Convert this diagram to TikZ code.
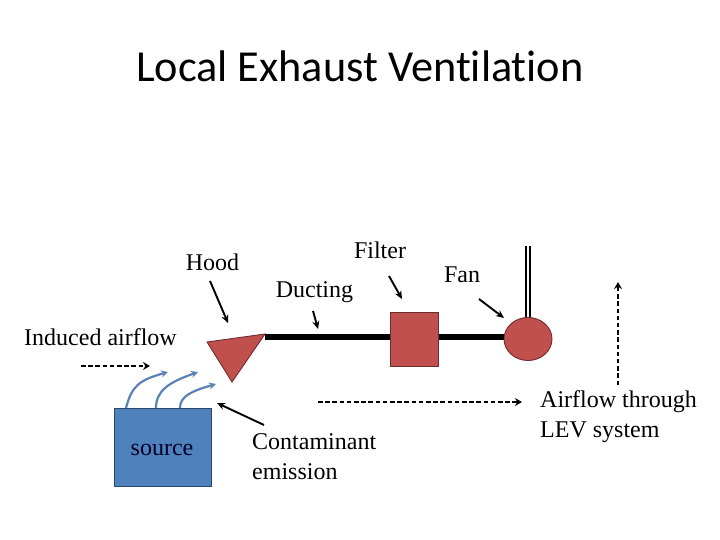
\documentclass[tikz,border=0pt]{standalone}
\usepackage{fontspec}
\setmainfont{Liberation Serif}
\newfontfamily\titlefont[Ligatures=NoCommon]{Carlito}
\usetikzlibrary{arrows.meta,shapes.geometric}
\definecolor{redfill}{RGB}{192,80,77}
\definecolor{redline}{RGB}{110,45,45}
\definecolor{bluefill}{RGB}{79,129,189}
\definecolor{blueline}{RGB}{40,70,110}
\definecolor{flow}{RGB}{90,130,180}
\tikzset{
  lab/.style={inner sep=0pt,font=\fontsize{24}{29.5}\selectfont,align=left},
  part/.style={draw=redline,fill=redfill,line width=0.9pt},
  pointer/.style={draw=black,line width=1.9pt,-{Stealth[length=8pt,width=7pt]}},
  dashflow/.style={draw=black,line width=1.8pt,dash pattern=on 4.5pt off 2.7pt,-{Stealth[length=7pt,width=8pt]}},
  plume/.style={draw=flow,line width=2.2pt,-{Stealth[length=7pt,width=7pt]}},
  duct/.style={draw=black,line width=6pt}
}
\begin{document}
\begin{tikzpicture}[x=1pt,y=-1pt]
\useasboundingbox (0,0) rectangle (720,540);
\fill[white] (0,0) rectangle (720,540);
\node[inner sep=0pt,font=\titlefont\fontsize{44.3}{52}\selectfont] (title) at (360,66.5) {Local Exhaust Ventilation};

% coordinates
\coordinate (hoodA) at (207,342);
\coordinate (hoodB) at (265,334);
\coordinate (hoodC) at (232,382);
\coordinate (stackTop) at (528,246);
\coordinate (stackBase) at (528,322);

\draw[draw=black,line width=5.4pt] (stackTop) -- (stackBase);
\draw[draw=white,line width=1.6pt] (stackTop) -- (stackBase);

\node[part,minimum width=48pt,minimum height=54pt,inner sep=0pt,rectangle] (filter) at (414.5,339.5) {};
\node[part,ellipse,minimum width=48pt,minimum height=43pt,inner sep=0pt] (fan) at (528,339) {};
\node[draw=blueline,fill=bluefill,line width=0.9pt,minimum width=97pt,minimum height=78pt,inner sep=0pt] (source) at (162.5,447) {};
\node[lab,text=black!85!blue] (sourcetxt) at (162,450) {source};

\draw[duct] (hoodB |- 0,336.5) -- (filter.west |- 0,336.5) (filter.east |- 0,336.5) -- (fan.west |- 0,336.5);
\draw[part] (hoodA) -- (hoodB) -- (hoodC) -- cycle;

% labels
\node[lab] (hood) at (212.5,262) {Hood};
\node[lab] (filterl) at (380,250.5) {Filter};
\node[lab] (ducting) at (314.5,292) {Ducting};
\node[lab] (fanl) at (462,275) {Fan};
\node[lab] (induced) at (100.5,337) {Induced airflow};
\node[lab,anchor=west] (contam) at (252,456.5) {Contaminant\\emission};
\node[lab,anchor=west] (through) at (540,416.5) {Airflow through\\LEV system};

% pointers
\coordinate (p1a) at (210,281); \coordinate (p1b) at (228,323);
\coordinate (p2a) at (313,311); \coordinate (p2b) at (318,329);
\coordinate (p3a) at (389,276); \coordinate (p3b) at (402,299);
\coordinate (p4a) at (479,299); \coordinate (p4b) at (504,318);
\coordinate (p5a) at (264,425); \coordinate (p5b) at (217,403);
\draw[pointer] (p1a) -- (p1b);
\draw[pointer] (p2a) -- (p2b);
\draw[pointer] (p3a) -- (p3b);
\draw[pointer] (p4a) -- (p4b);
\draw[pointer] (p5a) -- (p5b);

% dashed flows
\coordinate (d1a) at (81,366); \coordinate (d1b) at (150,366);
\coordinate (d2a) at (318,402); \coordinate (d2b) at (522,402);
\coordinate (d3a) at (618,385); \coordinate (d3b) at (618,282);
\draw[dashflow] (d1a) -- (d1b);
\draw[dashflow] (d2a) -- (d2b);
\draw[dashflow] (d3a) -- (d3b);

% plumes
\coordinate (c1a) at (126,408); \coordinate (c1b) at (168,372);
\coordinate (c2a) at (156,408); \coordinate (c2b) at (198,372);
\coordinate (c3a) at (180,408); \coordinate (c3b) at (216,384);
\draw[plume] (c1a) .. controls (132,385) and (140,380) .. (c1b);
\draw[plume] (c2a) .. controls (156,390) and (170,382) .. (c2b);
\draw[plume] (c3a) .. controls (180,396) and (192,391) .. (c3b);
\end{tikzpicture}
\end{document}
